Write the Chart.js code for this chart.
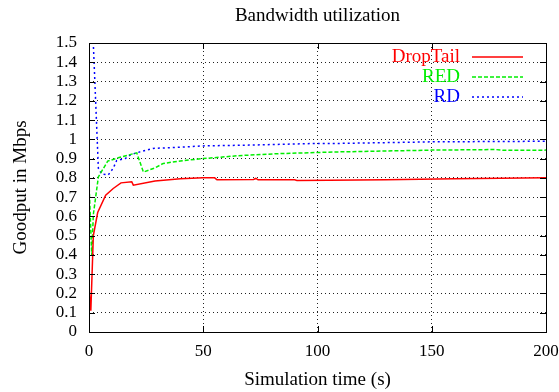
<!DOCTYPE html>
<html>
<head>
<meta charset="utf-8">
<script src="https://cdn.jsdelivr.net/npm/chart.js@4.4.0/dist/chart.umd.min.js"></script>
<style>
  html, body { margin: 0; padding: 0; background: #fff; }
  canvas { display: block; }
</style>
</head>
<body>
<canvas id="myChart" width="559" height="392"></canvas>
<script>
// simulation time (s) and goodput (Mbps) for each queue policy
const tDropTail = [0, 0.8, 1.9, 3.8, 7.3, 10.6, 14, 18.7, 19.4, 28.9, 40, 50, 55, 56, 72, 73, 74, 90, 91, 105, 130, 160, 200];
const vDropTail = [0.23, 0.11, 0.50, 0.62, 0.71, 0.745, 0.774, 0.78, 0.762, 0.784, 0.795, 0.80, 0.80, 0.79, 0.792, 0.797, 0.79, 0.79, 0.786, 0.787, 0.79, 0.795, 0.80];

const tRED = [0, 1.2, 1.9, 4.1, 8.2, 12.8, 17, 20.9, 23.8, 28.9, 32.5, 40, 50, 65, 83.6, 110, 150, 178, 181, 200];
const vRED = [0.78, 0.40, 0.61, 0.805, 0.887, 0.904, 0.918, 0.93, 0.83, 0.852, 0.875, 0.888, 0.90, 0.915, 0.926, 0.935, 0.944, 0.947, 0.943, 0.944];

const tRD = [0, 4.1, 5.5, 8.4, 10.6, 12.1, 15.8, 18, 20.1, 22.3, 28, 38, 50, 70, 100, 110, 150, 200];
const vRD = [2.05, 0.85, 0.82, 0.815, 0.85, 0.89, 0.90, 0.918, 0.927, 0.935, 0.953, 0.958, 0.966, 0.970, 0.979, 0.979, 0.987, 0.99];

const xStep = 50;
const yStep = 0.1;
const chartTitle = 'Bandwidth utilization';

const serif = "'Liberation Serif', 'DejaVu Serif', serif";

function pts(t, v) {
  return t.map((x, i) => ({ x: x, y: v[i] }));
}

// gnuplot-like title, frame, inward ticks and legend
const gnuplotFrame = {
  id: 'gnuplotFrame',
  afterDatasetsDraw(chart) {
    const c = chart.ctx;
    const a = chart.chartArea;
    c.save();
    c.strokeStyle = '#000';
    c.lineWidth = 1;
    c.setLineDash([]);
    c.beginPath();
    chart.scales.x.ticks.forEach(t => {
      const p = Math.round(chart.scales.x.getPixelForValue(t.value)) + 0.5;
      c.moveTo(p, a.bottom); c.lineTo(p, a.bottom - 6);
      c.moveTo(p, a.top); c.lineTo(p, a.top + 6);
    });
    chart.scales.y.ticks.forEach(t => {
      const p = Math.round(chart.scales.y.getPixelForValue(t.value)) + 0.5;
      c.moveTo(a.left, p); c.lineTo(a.left + 6, p);
      c.moveTo(a.right, p); c.lineTo(a.right - 6, p);
    });
    c.stroke();
    c.strokeRect(Math.round(a.left) + 0.5, Math.round(a.top) + 0.5,
                 Math.round(a.right - a.left), Math.round(a.bottom - a.top));

    // title centred over the plot area
    c.fillStyle = '#000';
    c.font = '19px ' + serif;
    c.textAlign = 'center';
    c.textBaseline = 'middle';
    c.fillText(chartTitle, (a.left + a.right) / 2, 16);

    // legend
    c.font = '19px ' + serif;
    c.textAlign = 'right';
    chart.data.datasets.forEach((ds, i) => {
      const y = a.top + 14 + i * 20;
      c.fillStyle = ds.borderColor;
      c.fillText(ds.label, a.left + 371, y);
      c.strokeStyle = ds.borderColor;
      c.lineWidth = ds.borderWidth;
      c.setLineDash(ds.borderDash || []);
      c.beginPath();
      c.moveTo(a.left + 383, y);
      c.lineTo(a.left + 434, y);
      c.stroke();
    });
    c.restore();
  }
};

const ctx = document.getElementById('myChart');

new Chart(ctx, {
  type: 'line',
  data: {
    datasets: [{
      label: 'DropTail',
      data: pts(tDropTail, vDropTail),
      borderColor: '#ff0000',
      borderWidth: 1.5,
      pointRadius: 0,
    },
    {
      label: 'RED',
      data: pts(tRED, vRED),
      borderColor: '#00ee00',
      borderWidth: 1.5,
      borderDash: [4, 2],
      pointRadius: 0,
    },
    {
      label: 'RD',
      data: pts(tRD, vRD),
      borderColor: '#0000ff',
      borderWidth: 1.5,
      borderDash: [2, 3],
      pointRadius: 0,
    }]
  },
  options: {
    responsive: false,
    animation: false,
    layout: {
      padding: { left: 0, right: 13, top: 43, bottom: 0 }
    },
    scales: {
      x: {
        type: 'linear',
        min: 0,
        max: 200,
        // let the last label run past the edge like gnuplot does
        afterFit: s => { s.height = 60; s.paddingLeft = 0; s.paddingRight = 0; },
        ticks: {
          stepSize: xStep,
          autoSkip: false,
          color: '#000',
          padding: 9,
          maxRotation: 0,
          font: { family: serif, size: 17 },
        },
        grid: { color: '#222', lineWidth: 1, drawTicks: false },
        border: { display: false, dash: [1, 3] },
        title: {
          display: true,
          text: 'Simulation time (s)',
          color: '#000',
          font: { family: serif, size: 19 },
          padding: { top: 0, bottom: 1 },
        }
      },
      y: {
        min: 0,
        max: 1.5,
        afterFit: s => { s.width = 89; s.paddingTop = 0; s.paddingBottom = 0; },
        ticks: {
          stepSize: yStep,
          autoSkip: false,
          color: '#000',
          padding: 12,
          font: { family: serif, size: 17 },
          callback: v => String(Math.round(v * 10) / 10),
        },
        grid: { color: '#222', lineWidth: 1, drawTicks: false },
        border: { display: false, dash: [1, 3] },
        title: {
          display: true,
          text: 'Goodput in Mbps',
          color: '#000',
          font: { family: serif, size: 19 },
          padding: { top: 10, bottom: 0 },
        }
      }
    },
    plugins: {
      legend: { display: false },
      tooltip: { enabled: false },
      title: { display: false }
    }
  },
  plugins: [gnuplotFrame]
});
</script>
</body>
</html>
